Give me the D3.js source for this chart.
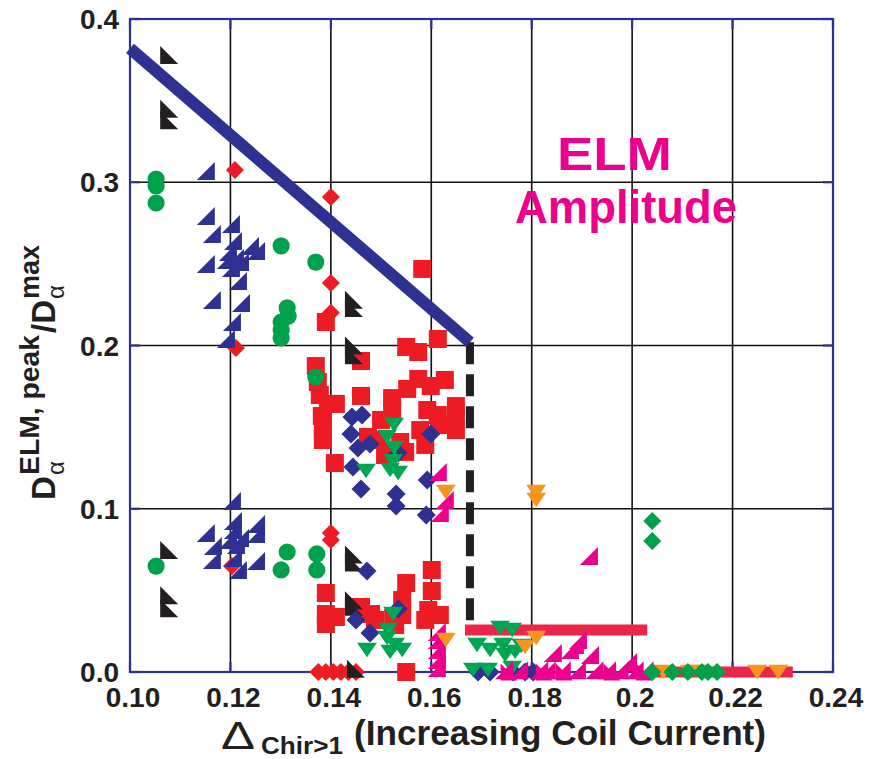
<!DOCTYPE html>
<html>
<head>
<meta charset="utf-8">
<script src="https://cdn.jsdelivr.net/npm/d3@7"></script>
<style>
  body { margin: 0; background: #fff; }
  text { font-family: "Liberation Sans", Arial, sans-serif; }
</style>
</head>
<body>
<div id="chart"></div>
<script>
// axis ticks
const xTicks = [0.10, 0.12, 0.14, 0.16, 0.18, 0.20, 0.22, 0.24];
const xTickLabels = ["0.10", "0.12", "0.14", "0.16", "0.18", "0.2", "0.22", "0.24"];
const yTicks = [0.0, 0.1, 0.2, 0.3, 0.4];
const yTickLabels = ["0.0", "0.1", "0.2", "0.3", "0.4"];

// guide lines
const limitLine = [[0.100, 0.382], [0.1677, 0.202]];
const dashLine = [[0.1677, 0.202], [0.1677, 0.028]];
const barLow = [[0.1667, 0.0257], [0.2030, 0.0257]];
const barZero = [[0.2040, 0.0], [0.2320, 0.0]];

// series, [x, y]
const redSquares = [
  [0.1582,0.2469],[0.1390,0.2144],[0.1613,0.2040],[0.1550,0.1991],[0.1574,0.1960],
  [0.1460,0.1905],[0.1370,0.1874],[0.1374,0.1776],[0.1378,0.1697],[0.1394,0.1642],
  [0.1410,0.1642],[0.1382,0.1568],[0.1384,0.1495],[0.1384,0.1421],[0.1408,0.1280],
  [0.1460,0.1691],[0.1522,0.1678],[0.1522,0.1605],[0.1552,0.1734],[0.1574,0.1795],
  [0.1599,0.1752],[0.1592,0.1605],[0.1613,0.1574],[0.1617,0.1513],[0.1649,0.1629],
  [0.1649,0.1556],[0.1649,0.1482],[0.1578,0.1482],[0.1588,0.1391],[0.1474,0.1440],
  [0.1500,0.1544],[0.1500,0.1421],[0.1508,0.1329],[0.1538,0.1409],[0.1548,0.1348],
  [0.1627,0.1789],
  [0.1390,0.0484],[0.1390,0.0355],[0.1410,0.0337],[0.1390,0.0294],[0.1460,0.0398],
  [0.1480,0.0355],[0.1488,0.0319],[0.1524,0.0331],[0.1550,0.0545],[0.1542,0.0441],
  [0.1542,0.0349],[0.1528,0.0288],[0.1601,0.0625],[0.1601,0.0496],[0.1594,0.0380],
  [0.1617,0.0349],[0.1588,0.0319],[0.1550,0.0]
];
const redDiamonds = [
  [0.1209,0.3075],[0.1400,0.2910],[0.1400,0.2383],[0.1400,0.2200],[0.1211,0.1985],
  [0.1400,0.0851],[0.1400,0.0809],[0.1203,0.0650],
  [0.1375,0.0],[0.1390,0.0],[0.1405,0.0],[0.1420,0.0],[0.1435,0.0],[0.1450,0.0]
];
const blueTriangles = [
  [0.1151,0.3069],[0.1151,0.2793],[0.1163,0.2683],[0.1201,0.2744],[0.1205,0.2640],
  [0.1239,0.2610],[0.1251,0.2579],[0.1195,0.2573],[0.1209,0.2536],[0.1219,0.2511],
  [0.1191,0.2524],[0.1151,0.2499],[0.1201,0.2475],[0.1215,0.2395],[0.1163,0.2279],
  [0.1221,0.2260],[0.1203,0.2144],[0.1191,0.2040],
  [0.1203,0.1047],[0.1151,0.0851],[0.1205,0.0925],[0.1251,0.0907],[0.1251,0.0845],
  [0.1165,0.0772],[0.1163,0.0686],[0.1205,0.0870],[0.1219,0.0821],[0.1211,0.0778],
  [0.1205,0.0698],[0.1215,0.0625],[0.1251,0.0680],[0.1195,0.0809]
];
const greenCircles = [
  [0.1052,0.3020],[0.1052,0.2977],[0.1052,0.2873],[0.1301,0.2610],[0.1370,0.2511],
  [0.1313,0.2230],[0.1315,0.2180],[0.1301,0.2144],[0.1301,0.2095],[0.1301,0.2046],
  [0.1370,0.1807],[0.1052,0.0649],[0.1313,0.0735],[0.1301,0.0625],[0.1372,0.0723],
  [0.1372,0.0625]
];
const blackTriangles = [
  [0.1078,0.3780],[0.1078,0.3450],[0.1078,0.3380],[0.1078,0.0747],[0.1078,0.0470],
  [0.1078,0.0390],[0.1446,0.2280],[0.1446,0.2230],[0.1446,0.2000],[0.1446,0.1940],
  [0.1446,0.0720],[0.1446,0.0670],[0.1446,0.0440],[0.1446,0.0400],[0.1450,0.0020]
];
const blueDiamonds = [
  [0.1442,0.1562],[0.1462,0.1574],[0.1440,0.1458],[0.1454,0.1372],[0.1478,0.1397],
  [0.1444,0.1256],[0.1460,0.1121],[0.1530,0.1090],[0.1530,0.1017],[0.1599,0.1458],
  [0.1592,0.1176],[0.1590,0.0962],[0.1534,0.1342],[0.1472,0.0619],[0.1450,0.0319],
  [0.1478,0.0239],[0.1534,0.0386],
  [0.1693,0.0],[0.1717,0.0],[0.1763,0.0],[0.1787,0.0],[0.1803,0.0]
];
const greenDown = [
  [0.1526,0.1513],[0.1512,0.1440],[0.1526,0.1372],[0.1524,0.1292],[0.1518,0.1237],
  [0.1534,0.1219],[0.1470,0.1231],[0.1524,0.0355],[0.1472,0.0135],[0.1512,0.0208],
  [0.1528,0.0165],[0.1518,0.0123],[0.1542,0.0135],[0.1514,0.0257],
  [0.1737,0.0270],[0.1761,0.0257],[0.1691,0.0165],[0.1717,0.0135],[0.1743,0.0165],
  [0.1747,0.0104],[0.1767,0.0123],[0.1779,0.0159],[0.1683,0.0012],[0.1713,0.0012],
  [0.1761,0.0025]
];
const magentaTriangles = [
  [0.1914,0.0711],[0.1613,0.1225],[0.1627,0.1054],[0.1617,0.0974],[0.1611,0.0245],
  [0.1611,0.0196],[0.1611,0.0135],[0.1611,0.0074],[0.1611,0.0025],[0.1842,0.0116],
  [0.1876,0.0135],[0.1886,0.0165],[0.1892,0.0196],[0.1916,0.0104],[0.1992,0.0061],
  [0.1745,0.0010],[0.1775,0.0010],[0.1815,0.0010],[0.1830,0.0010],[0.1860,0.0010],
  [0.1890,0.0010],[0.1925,0.0010],[0.1950,0.0010],[0.1975,0.0010],[0.2005,0.0010],
  [0.2025,0.0010]
];
const magentaCorners = [
  [0.1755,0.0],[0.1825,0.0],[0.1865,0.0],[0.1960,0.0],[0.2025,0.0]
];
const orangeDown = [
  [0.1629,0.1103],[0.1629,0.0196],[0.1809,0.1103],[0.1809,0.1054],[0.1809,0.0208],
  [0.1787,0.0153],[0.2249,0.0],[0.2291,0.0],[0.2062,0.0],[0.2115,0.0],[0.2135,0.0]
];
const greenDiamonds = [
  [0.2040,0.0925],[0.2040,0.0802],
  [0.2040,0.0],[0.2080,0.0],[0.2111,0.0],[0.2139,0.0],[0.2151,0.0],[0.2169,0.0]
];

const width = 874;
const height = 759;
const navy = "#2e3192";

const svg = d3.select("#chart")
  .append("svg")
    .attr("width", width)
    .attr("height", height)
    .attr("viewBox", [0, 0, width, height]);

const x = d3.scaleLinear().domain([0.10, 0.24]).range([130, 833]);
const y = d3.scaleLinear().domain([0, 0.4]).range([672, 19]);

// grid
svg.append("g")
  .selectAll("line")
  .data(xTicks.slice(1, -1))
  .join("line")
    .attr("x1", d => x(d)).attr("x2", d => x(d))
    .attr("y1", y(0)).attr("y2", y(0.4))
    .attr("stroke", "#111").attr("stroke-width", 1.6);

svg.append("g")
  .selectAll("line")
  .data(yTicks.slice(1, -1))
  .join("line")
    .attr("x1", x(0.10)).attr("x2", x(0.24))
    .attr("y1", d => y(d)).attr("y2", d => y(d))
    .attr("stroke", "#111").attr("stroke-width", 1.6);

// frame with inward ticks
const frame = svg.append("g").attr("stroke", navy).attr("stroke-width", 2.2).attr("fill", "none");
frame.append("rect")
  .attr("x", x(0.10)).attr("y", y(0.4))
  .attr("width", x(0.24) - x(0.10))
  .attr("height", y(0) - y(0.4));
xTicks.forEach(t => {
  frame.append("line").attr("x1", x(t)).attr("x2", x(t)).attr("y1", y(0)).attr("y2", y(0) - 10);
  frame.append("line").attr("x1", x(t)).attr("x2", x(t)).attr("y1", y(0.4)).attr("y2", y(0.4) + 10);
});
yTicks.forEach(t => {
  frame.append("line").attr("x1", x(0.10)).attr("x2", x(0.10) + 10).attr("y1", y(t)).attr("y2", y(t));
  frame.append("line").attr("x1", x(0.24)).attr("x2", x(0.24) - 10).attr("y1", y(t)).attr("y2", y(t));
});

// tick labels
svg.append("g")
  .selectAll("text")
  .data(xTicks)
  .join("text")
    .attr("x", d => x(d) + 3)
    .attr("y", 707)
    .attr("text-anchor", "middle")
    .attr("font-size", 28)
    .attr("font-weight", "bold")
    .attr("fill", "#231f20")
    .text((d, i) => xTickLabels[i]);

svg.append("g")
  .selectAll("text")
  .data(yTicks)
  .join("text")
    .attr("x", 119)
    .attr("y", d => y(d) + 10)
    .attr("text-anchor", "end")
    .attr("font-size", 28)
    .attr("font-weight", "bold")
    .attr("fill", "#231f20")
    .text((d, i) => yTickLabels[i]);

// guide lines
const line = d3.line().x(d => x(d[0])).y(d => y(d[1]));

svg.append("path").attr("d", line(barLow))
  .attr("stroke", "#ec2649").attr("stroke-width", 11).attr("fill", "none");
svg.append("path").attr("d", line(barZero))
  .attr("stroke", "#ec2649").attr("stroke-width", 11).attr("fill", "none");
svg.append("path").attr("d", line(dashLine))
  .attr("stroke", "#231f20").attr("stroke-width", 8)
  .attr("stroke-dasharray", "22,10").attr("fill", "none");
svg.append("path").attr("d", line(limitLine))
  .attr("stroke", navy).attr("stroke-width", 12).attr("fill", "none");

// marker shapes
const poly = pts => ({
  draw(ctx, size) {
    const s = Math.sqrt(size) / 2;
    ctx.moveTo(pts[0][0] * s, pts[0][1] * s);
    for (let i = 1; i < pts.length; i++) ctx.lineTo(pts[i][0] * s, pts[i][1] * s);
    ctx.closePath();
  }
});
const triBR = poly([[1, -1], [1, 1], [-1, 1]]);        // right angle bottom-right
const triBL = poly([[-1, -1], [-1, 1], [1, 1]]);       // right angle bottom-left
const triDown = poly([[-1.1, -0.8], [1.1, -0.8], [0, 0.8]]);
const diamond = poly([[0, -1], [1, 0], [0, 1], [-1, 0]]);
const square = poly([[-1, -1], [1, -1], [1, 1], [-1, 1]]);

function plot(data, type, size, color) {
  svg.append("g")
    .selectAll("path")
    .data(data)
    .join("path")
      .attr("transform", d => `translate(${x(d[0])},${y(d[1])})`)
      .attr("d", d3.symbol(type, size))
      .attr("fill", color);
}

plot(redSquares, square, 18 * 18, "#ed1c24");
plot(redDiamonds, diamond, 18 * 18, "#ed1c24");
plot(blueTriangles, triBR, 18 * 18, navy);
plot(greenCircles, d3.symbolCircle, Math.PI * 8.6 * 8.6, "#00a14b");
plot(blackTriangles, triBL, 18 * 18, "#231f20");
plot(blueDiamonds, diamond, 19 * 19, navy);
plot(greenDown, triDown, 18 * 18, "#00a651");
plot(magentaTriangles, triBR, 18 * 18, "#ec008c");
plot(magentaCorners, triBL, 17 * 17, "#ec008c");
plot(orangeDown, triDown, 18 * 18, "#f7941d");
plot(greenDiamonds, diamond, 18 * 18, "#00a14b");

// annotation
svg.append("text")
  .attr("x", 557).attr("y", 170)
  .attr("font-size", 46).attr("font-weight", "bold").attr("fill", "#ec008c")
  .attr("textLength", 115).attr("lengthAdjust", "spacingAndGlyphs")
  .text("ELM");
svg.append("text")
  .attr("x", 515).attr("y", 223)
  .attr("font-size", 46).attr("font-weight", "bold").attr("fill", "#ec008c")
  .attr("textLength", 222).attr("lengthAdjust", "spacingAndGlyphs")
  .text("Amplitude");

// x title
svg.append("text")
  .attr("x", 221).attr("y", 749)
  .attr("font-size", 38).attr("fill", "#231f20")
  .attr("textLength", 34).attr("lengthAdjust", "spacingAndGlyphs")
  .text("Δ");
svg.append("text")
  .attr("x", 261).attr("y", 754)
  .attr("font-size", 23).attr("font-weight", "bold").attr("fill", "#231f20")
  .attr("textLength", 82).attr("lengthAdjust", "spacingAndGlyphs")
  .text("Chir>1");
svg.append("text")
  .attr("x", 354).attr("y", 745)
  .attr("font-size", 35).attr("font-weight", "bold").attr("fill", "#231f20")
  .attr("textLength", 412).attr("lengthAdjust", "spacingAndGlyphs")
  .text("(Increasing Coil Current)");

// y title, rotated, reading upward
const yt = svg.append("g")
  .attr("transform", "translate(55,500) rotate(-90)")
  .attr("fill", "#231f20");
yt.append("text").attr("x", 0).attr("y", 0)
  .attr("font-size", 33).attr("font-weight", "bold").text("D");
yt.append("text").attr("x", 25).attr("y", 9)
  .attr("font-size", 24).text("α");
yt.append("text").attr("x", 25).attr("y", -16)
  .attr("font-size", 27).attr("font-weight", "bold")
  .attr("textLength", 140).attr("lengthAdjust", "spacingAndGlyphs")
  .text("ELM, peak");
yt.append("text").attr("x", 167).attr("y", 0)
  .attr("font-size", 33).attr("font-weight", "bold").text("/D");
yt.append("text").attr("x", 201).attr("y", 9)
  .attr("font-size", 24).text("α");
yt.append("text").attr("x", 201).attr("y", -16)
  .attr("font-size", 27).attr("font-weight", "bold").text("max");
</script>
</body>
</html>
